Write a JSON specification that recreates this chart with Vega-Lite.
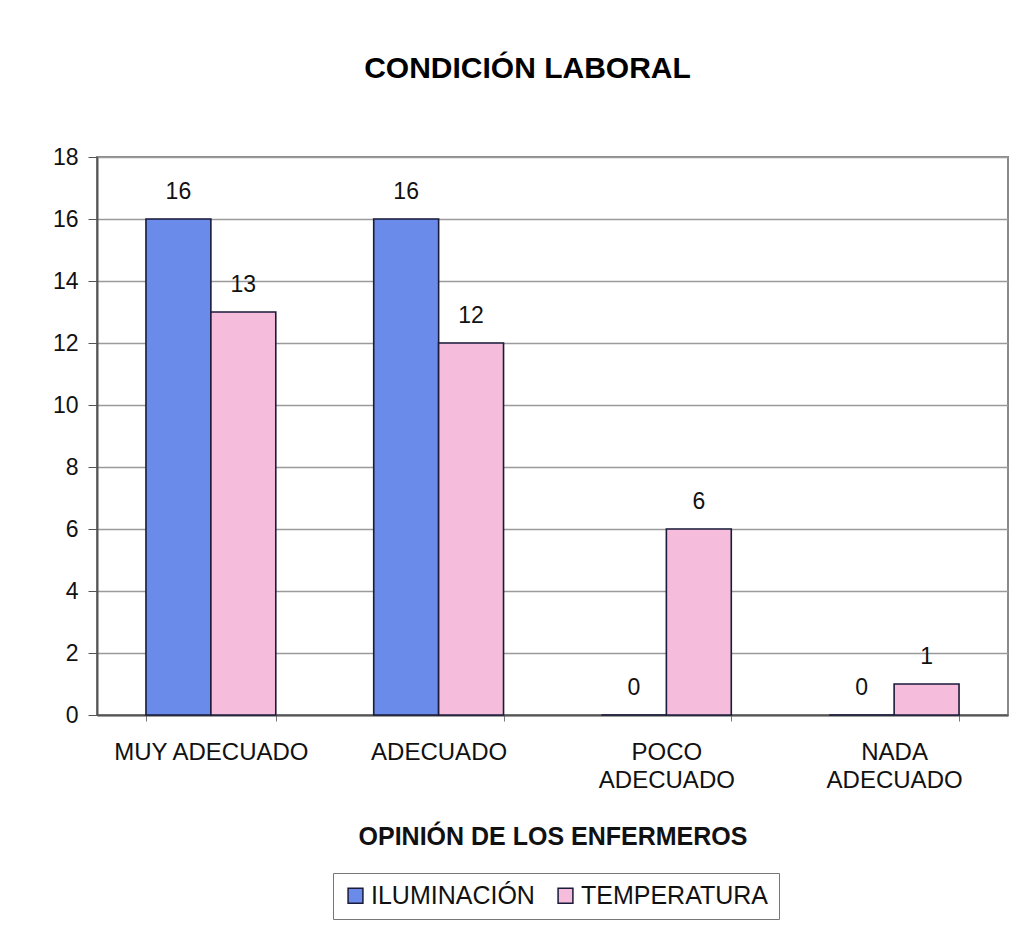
{
  "$schema": "https://vega.github.io/schema/vega-lite/v6.json",
  "width": 911,
  "height": 558,
  "autosize": {"type": "none"},
  "padding": {"left": 97, "top": 157, "right": 26, "bottom": 211},
  "background": "white",
  "title": {
    "text": "CONDICIÓN LABORAL",
    "font": "Liberation Sans",
    "fontSize": 30,
    "fontWeight": "bold",
    "color": "#000000",
    "anchor": "middle",
    "dx": -25,
    "offset": 62
  },
  "config": {
    "font": "Liberation Sans",
    "view": {"stroke": "#8a8a8a", "strokeWidth": 2},
    "axis": {"labelFont": "Liberation Sans", "titleFont": "Liberation Sans", "labelColor": "#111111", "titleColor": "#111111"}
  },
  "data": {
    "values": [
      {"opinion": "MUY ADECUADO", "serie": "ILUMINACIÓN", "valor": 16},
      {"opinion": "MUY ADECUADO", "serie": "TEMPERATURA", "valor": 13},
      {"opinion": "ADECUADO", "serie": "ILUMINACIÓN", "valor": 16},
      {"opinion": "ADECUADO", "serie": "TEMPERATURA", "valor": 12},
      {"opinion": "POCO ADECUADO", "serie": "ILUMINACIÓN", "valor": 0},
      {"opinion": "POCO ADECUADO", "serie": "TEMPERATURA", "valor": 6},
      {"opinion": "NADA ADECUADO", "serie": "ILUMINACIÓN", "valor": 0},
      {"opinion": "NADA ADECUADO", "serie": "TEMPERATURA", "valor": 1}
    ]
  },
  "encoding": {
    "x": {
      "field": "opinion",
      "type": "nominal",
      "sort": ["MUY ADECUADO", "ADECUADO", "POCO ADECUADO", "NADA ADECUADO"],
      "scale": {"paddingInner": 0.43, "paddingOuter": 0.215},
      "axis": {
        "title": "OPINIÓN DE LOS ENFERMEROS",
        "titleFontSize": 25,
        "titleFontWeight": "bold",
        "titlePadding": 32,
        "labelFontSize": 24,
        "labelAngle": 0,
        "labelPadding": 19,
        "labelLineHeight": 28,
        "labelLimit": 300,
        "labelExpr": "indexof(datum.label, 'POCO') == 0 || indexof(datum.label, 'NADA') == 0 ? split(datum.label, ' ') : datum.label",
        "tickBand": "extent",
        "tickSize": 6,
        "tickColor": "#777777",
        "domainColor": "#555555",
        "domainWidth": 2,
        "grid": false
      }
    },
    "xOffset": {"field": "serie", "type": "nominal", "sort": ["ILUMINACIÓN", "TEMPERATURA"]},
    "y": {
      "field": "valor",
      "type": "quantitative",
      "scale": {"domain": [0, 18]},
      "axis": {
        "title": null,
        "values": [0, 2, 4, 6, 8, 10, 12, 14, 16, 18],
        "labelFontSize": 23,
        "labelPadding": 10,
        "tickSize": 9,
        "tickColor": "#555555",
        "domainColor": "#555555",
        "domainWidth": 2,
        "gridColor": "#9a9a9a",
        "gridWidth": 1.5
      }
    }
  },
  "layer": [
    {
      "mark": {"type": "bar", "stroke": "#1a1a3a", "strokeWidth": 1.6},
      "encoding": {
        "color": {
          "field": "serie",
          "type": "nominal",
          "scale": {"domain": ["ILUMINACIÓN", "TEMPERATURA"], "range": ["#6a8bea", "#f6bcdc"]},
          "legend": {
            "title": null,
            "orient": "none",
            "legendX": 236,
            "legendY": 716,
            "direction": "horizontal",
            "labelFontSize": 25,
            "labelLimit": 300,
            "labelColor": "#111111",
            "symbolType": "square",
            "symbolSize": 220,
            "symbolStrokeColor": "#1a1a3a",
            "symbolStrokeWidth": 1.5,
            "labelOffset": 3,
            "columnPadding": 18,
            "strokeColor": "#777777",
            "padding": 10
          }
        }
      }
    },
    {
      "mark": {"type": "text", "baseline": "bottom", "dy": -15, "fontSize": 23, "color": "#111111"},
      "encoding": {"text": {"field": "valor", "type": "quantitative"}}
    }
  ]
}
